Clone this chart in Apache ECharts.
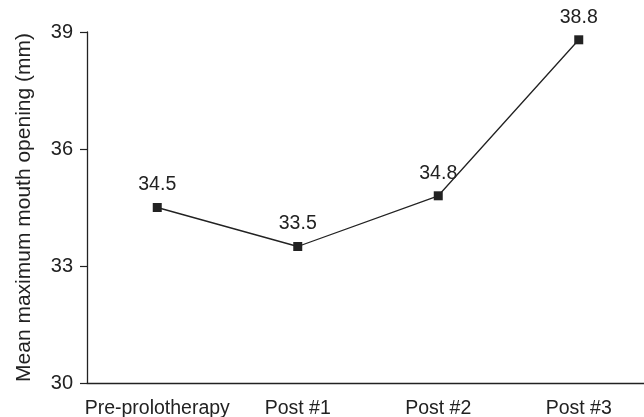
<!DOCTYPE html>
<html>
<head>
<meta charset="utf-8">
<script src="https://cdn.jsdelivr.net/npm/echarts@6/dist/echarts.min.js"></script>
<style>
  html, body { margin: 0; padding: 0; background: #fff; }
  #chart { width: 644px; height: 417px; }
</style>
</head>
<body>
<div id="chart"></div>
<script>
// Mean maximum mouth opening at each visit
const categories = ['Pre-prolotherapy', 'Post #1', 'Post #2', 'Post #3'];
const meanOpening = [34.5, 33.5, 34.8, 38.8];
const yTicks = [30, 33, 36, 39];

const ink = '#222';
const font = 'Liberation Sans, Arial, Helvetica, sans-serif';

const chart = echarts.init(document.getElementById('chart'), null, { renderer: 'canvas' });
chart.setOption({
  animation: false,
  backgroundColor: '#fff',
  grid: { left: 87, right: -5, top: 32, bottom: 34, containLabel: false, outerBoundsMode: 'none' },
  xAxis: {
    type: 'category',
    data: categories,
    boundaryGap: true,
    axisLine: { lineStyle: { color: ink, width: 1.3 } },
    axisTick: { alignWithLabel: true, length: 7, lineStyle: { color: ink, width: 1.2 } },
    axisLabel: { color: ink, fontSize: 19.5, fontFamily: font, margin: 16, interval: 0 }
  },
  yAxis: {
    type: 'value',
    min: yTicks[0],
    max: yTicks[yTicks.length - 1],
    interval: 3,
    name: 'Mean maximum mouth opening (mm)',
    nameLocation: 'middle',
    nameGap: 52,
    nameTextStyle: { color: ink, fontSize: 21, fontFamily: font },
    splitLine: { show: false },
    axisLine: { show: true, lineStyle: { color: ink, width: 1.3 } },
    axisTick: { show: true, length: 7, lineStyle: { color: ink, width: 1.2 } },
    axisLabel: { color: ink, fontSize: 20, fontFamily: font, margin: 14 }
  },
  series: [{
    type: 'line',
    data: meanOpening,
    symbol: 'rect',
    symbolSize: 9,
    itemStyle: { color: ink },
    lineStyle: { color: ink, width: 1.3 },
    label: {
      show: true,
      position: 'top',
      distance: 8,
      color: ink,
      fontSize: 19.5,
      fontFamily: font
    }
  }]
});
</script>
</body>
</html>
